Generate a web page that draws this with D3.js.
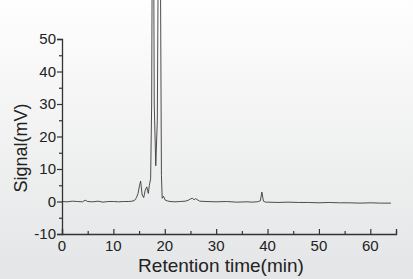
<!DOCTYPE html>
<html>
<head>
<meta charset="utf-8">
<script src="https://cdn.jsdelivr.net/npm/d3@7"></script>
<style>
  html, body { margin: 0; padding: 0; }
  body { width: 413px; height: 279px; overflow: hidden; }
  text { font-family: "Liberation Sans", Arial, sans-serif; fill: #222; }
</style>
</head>
<body>
<svg id="chart"></svg>
<script>
// chromatogram trace (retention time in min, signal in mV)
const times = [0, 1, 2, 3, 4, 4.5, 5, 6, 7, 8, 9, 10, 11, 12, 13, 13.6, 14.1, 14.5, 14.8,
  15.1, 15.3, 15.6, 15.9, 16.2, 16.5, 16.8, 17.0, 17.25, 17.45, 17.7, 17.95, 18.25, 18.55,
  18.95, 19.35, 19.5, 19.75, 20.1, 20.5, 21, 22, 23, 24, 24.6, 25.0, 25.4, 25.7, 26.0,
  26.3, 26.8, 28, 30, 32, 34, 36, 37, 38, 38.6, 38.9, 39.2, 39.6, 40, 42, 44, 46, 48, 50,
  52, 54, 56, 58, 60, 62, 64];
const signal = [0, -0.1, 0.1, 0, -0.1, 0.4, 0, -0.1, 0.1, -0.2, 0, 0, -0.1, 0, 0, 0.1, 0.3, 1.2, 2.5,
  5, 6.3, 2, 1.2, 3.5, 4.5, 2.5, 5, 7, 30, 140, 30, 11, 25,
  140, 8, 1, 1.6, 0.4, 0.2, 0, -0.1, 0, 0.1, 0.4, 0.8, 1.0, 0.5, 0.9,
  0.6, 0.1, 0, -0.1, 0, -0.2, -0.1, -0.2, -0.1, 0.2, 2.9, 0.1, -0.2, -0.2, -0.3, -0.2, -0.3, -0.3, -0.4,
  -0.3, -0.4, -0.4, -0.5, -0.4, -0.5, -0.5];

const xTicks = [0, 10, 20, 30, 40, 50, 60];
const yTicks = [-10, 0, 10, 20, 30, 40, 50];

const width = 413;
const height = 279;

const svg = d3.select("#chart").attr("width", width).attr("height", height);

// background gradient
const grad = svg.append("defs").append("linearGradient")
  .attr("id", "bg").attr("x1", 0).attr("y1", 0).attr("x2", 0).attr("y2", 1);
grad.append("stop").attr("offset", "0%").attr("stop-color", "#fefefe");
grad.append("stop").attr("offset", "100%").attr("stop-color", "#e4e5e6");
svg.append("rect").attr("width", width).attr("height", height).attr("fill", "url(#bg)");

const x = d3.scaleLinear().domain([0, 65]).range([62, 396]);
const y = d3.scaleLinear().domain([-10, 50]).range([234, 39]);

// trace
const pts = times.map((t, i) => [t, signal[i]]);
svg.append("path")
  .datum(pts)
  .attr("fill", "none")
  .attr("stroke", "#3a3a3a")
  .attr("stroke-width", 0.9)
  .attr("d", d3.line().x(d => x(d[0])).y(d => y(d[1])));

// x axis: ticks inward
const gx = svg.append("g").attr("transform", `translate(0, ${y(-10)})`);
gx.call(d3.axisBottom(x).tickValues(d3.range(0, 66, 5)).tickSize(-5).tickFormat(""))
  .call(g => g.select(".domain").attr("stroke", "#333").attr("stroke-width", 1.3));
gx.selectAll(".tick line").attr("stroke", "#333").attr("stroke-width", 1.2)
  .attr("y2", d => (d % 10 === 0 ? -5 : -3));
gx.selectAll(".xlab").data(xTicks).join("text")
  .attr("x", d => x(d)).attr("y", 17)
  .attr("text-anchor", "middle").attr("font-size", 15).text(d => d);

// y axis: ticks outward
const gy = svg.append("g").attr("transform", `translate(${x(0)}, 0)`);
gy.call(d3.axisLeft(y).tickValues(d3.range(-10, 51, 5)).tickSize(5).tickFormat(""))
  .call(g => g.select(".domain").attr("stroke", "#333").attr("stroke-width", 1.3));
gy.selectAll(".tick line").attr("stroke", "#333").attr("stroke-width", 1.2)
  .attr("x2", d => (d % 10 === 0 ? -5 : -3));
gy.selectAll(".ylab").data(yTicks).join("text")
  .attr("x", -6).attr("y", d => y(d)).attr("dy", "0.36em")
  .attr("text-anchor", "end").attr("font-size", 15).text(d => d);

// axis titles
svg.append("text")
  .attr("x", 221).attr("y", 272)
  .attr("text-anchor", "middle").attr("font-size", 19)
  .text("Retention time(min)");
svg.append("text")
  .attr("transform", "translate(27, 148) rotate(-90)")
  .attr("text-anchor", "middle").attr("font-size", 18)
  .text("Signal(mV)");
</script>
</body>
</html>
